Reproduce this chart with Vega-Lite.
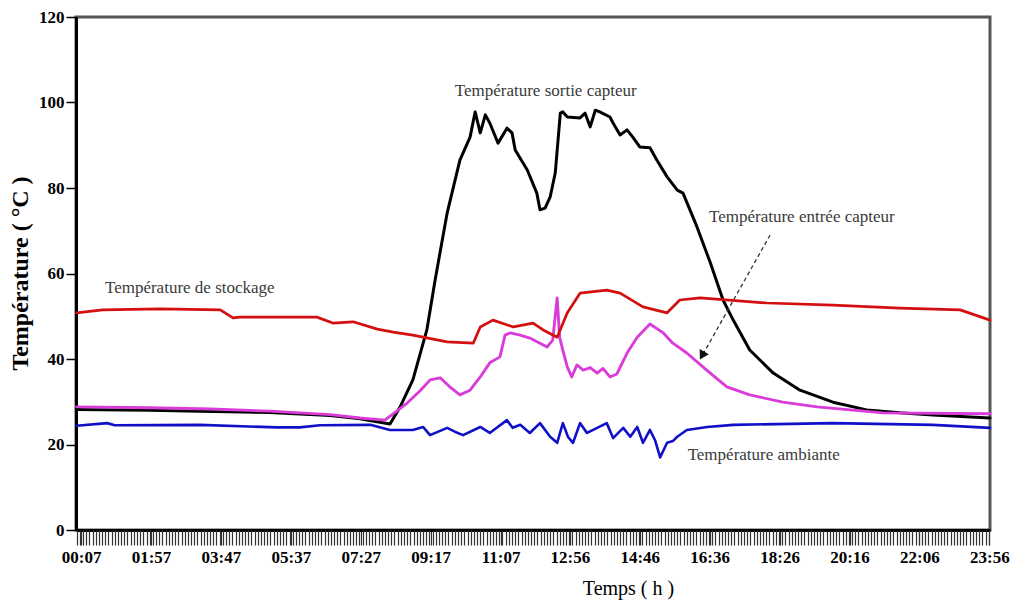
{
  "$schema": "https://vega.github.io/schema/vega-lite/v6.json",
  "width": 914,
  "height": 513,
  "autosize": "none",
  "padding": {"left": 76, "top": 17, "right": 24, "bottom": 73},
  "background": "white",
  "config": {"view": {"stroke": "#555", "strokeWidth": 3}},
  "datasets": {
    "series": [
      {"series":"sortie","minute":0,"temp":28.2},{"series":"sortie","minute":115,"temp":28.0},{"series":"sortie","minute":194,"temp":27.8},{"series":"sortie","minute":304,"temp":27.5},{"series":"sortie","minute":399,"temp":26.8},{"series":"sortie","minute":446,"temp":26.0},{"series":"sortie","minute":493,"temp":24.8},{"series":"sortie","minute":509,"temp":28.8},{"series":"sortie","minute":529,"temp":35.1},{"series":"sortie","minute":551,"temp":46.8},{"series":"sortie","minute":564,"temp":58.5},{"series":"sortie","minute":583,"temp":74.2},{"series":"sortie","minute":603,"temp":86.5},{"series":"sortie","minute":619,"temp":91.9},{"series":"sortie","minute":627,"temp":97.8},{"series":"sortie","minute":635,"temp":92.9},{"series":"sortie","minute":643,"temp":97.1},{"series":"sortie","minute":650,"temp":95.2},{"series":"sortie","minute":663,"temp":90.5},{"series":"sortie","minute":677,"temp":94.0},{"series":"sortie","minute":685,"temp":92.9},{"series":"sortie","minute":690,"temp":88.9},{"series":"sortie","minute":709,"temp":84.2},{"series":"sortie","minute":724,"temp":78.8},{"series":"sortie","minute":729,"temp":74.9},{"series":"sortie","minute":737,"temp":75.3},{"series":"sortie","minute":745,"temp":77.9},{"series":"sortie","minute":753,"temp":83.5},{"series":"sortie","minute":761,"temp":97.5},{"series":"sortie","minute":765,"temp":97.8},{"series":"sortie","minute":772,"temp":96.6},{"series":"sortie","minute":792,"temp":96.4},{"series":"sortie","minute":800,"temp":97.5},{"series":"sortie","minute":808,"temp":94.3},{"series":"sortie","minute":816,"temp":98.2},{"series":"sortie","minute":823,"temp":97.8},{"series":"sortie","minute":839,"temp":96.6},{"series":"sortie","minute":844,"temp":95.2},{"series":"sortie","minute":855,"temp":92.4},{"series":"sortie","minute":866,"temp":93.6},{"series":"sortie","minute":875,"temp":91.9},{"series":"sortie","minute":886,"temp":89.6},{"series":"sortie","minute":902,"temp":89.4},{"series":"sortie","minute":913,"temp":86.5},{"series":"sortie","minute":929,"temp":82.6},{"series":"sortie","minute":945,"temp":79.5},{"series":"sortie","minute":954,"temp":78.8},{"series":"sortie","minute":976,"temp":70.9},{"series":"sortie","minute":997,"temp":62.5},{"series":"sortie","minute":1017,"temp":53.8},{"series":"sortie","minute":1033,"temp":49.1},{"series":"sortie","minute":1059,"temp":42.1},{"series":"sortie","minute":1096,"temp":36.7},{"series":"sortie","minute":1138,"temp":32.7},{"series":"sortie","minute":1190,"temp":29.9},{"series":"sortie","minute":1243,"temp":28.1},{"series":"sortie","minute":1295,"temp":27.4},{"series":"sortie","minute":1347,"temp":26.9},{"series":"sortie","minute":1437,"temp":26.2},

      {"series":"entree","minute":0,"temp":28.8},{"series":"entree","minute":115,"temp":28.6},{"series":"entree","minute":210,"temp":28.3},{"series":"entree","minute":304,"temp":27.8},{"series":"entree","minute":399,"temp":27.0},{"series":"entree","minute":446,"temp":26.2},{"series":"entree","minute":485,"temp":25.7},{"series":"entree","minute":501,"temp":27.5},{"series":"entree","minute":520,"temp":29.7},{"series":"entree","minute":540,"temp":32.5},{"series":"entree","minute":556,"temp":35.1},{"series":"entree","minute":572,"temp":35.6},{"series":"entree","minute":587,"temp":33.5},{"series":"entree","minute":603,"temp":31.6},{"series":"entree","minute":619,"temp":32.7},{"series":"entree","minute":635,"temp":35.8},{"series":"entree","minute":650,"temp":39.1},{"series":"entree","minute":666,"temp":40.5},{"series":"entree","minute":674,"temp":45.6},{"series":"entree","minute":682,"temp":46.1},{"series":"entree","minute":698,"temp":45.6},{"series":"entree","minute":713,"temp":44.9},{"series":"entree","minute":729,"temp":43.7},{"series":"entree","minute":740,"temp":42.8},{"series":"entree","minute":749,"temp":44.4},{"series":"entree","minute":756,"temp":54.3},{"series":"entree","minute":760,"temp":45.0},{"series":"entree","minute":765,"temp":42.0},{"series":"entree","minute":772,"temp":38.1},{"series":"entree","minute":779,"temp":35.8},{"series":"entree","minute":787,"temp":38.6},{"series":"entree","minute":797,"temp":37.4},{"series":"entree","minute":808,"temp":38.0},{"series":"entree","minute":819,"temp":36.7},{"series":"entree","minute":828,"temp":37.8},{"series":"entree","minute":839,"temp":35.8},{"series":"entree","minute":850,"temp":36.5},{"series":"entree","minute":866,"temp":41.4},{"series":"entree","minute":882,"temp":45.1},{"series":"entree","minute":902,"temp":48.2},{"series":"entree","minute":923,"temp":46.1},{"series":"entree","minute":938,"temp":43.7},{"series":"entree","minute":960,"temp":41.4},{"series":"entree","minute":988,"temp":37.8},{"series":"entree","minute":1023,"temp":33.5},{"series":"entree","minute":1059,"temp":31.6},{"series":"entree","minute":1111,"temp":29.9},{"series":"entree","minute":1165,"temp":28.8},{"series":"entree","minute":1217,"temp":28.1},{"series":"entree","minute":1269,"temp":27.4},{"series":"entree","minute":1437,"temp":27.2},

      {"series":"stockage","minute":0,"temp":50.8},{"series":"stockage","minute":41,"temp":51.5},{"series":"stockage","minute":131,"temp":51.7},{"series":"stockage","minute":226,"temp":51.5},{"series":"stockage","minute":246,"temp":49.6},{"series":"stockage","minute":257,"temp":49.8},{"series":"stockage","minute":378,"temp":49.8},{"series":"stockage","minute":403,"temp":48.4},{"series":"stockage","minute":435,"temp":48.7},{"series":"stockage","minute":473,"temp":47.0},{"series":"stockage","minute":498,"temp":46.3},{"series":"stockage","minute":529,"temp":45.6},{"series":"stockage","minute":583,"temp":44.0},{"series":"stockage","minute":624,"temp":43.7},{"series":"stockage","minute":635,"temp":47.5},{"series":"stockage","minute":655,"temp":49.1},{"series":"stockage","minute":687,"temp":47.5},{"series":"stockage","minute":718,"temp":48.4},{"series":"stockage","minute":734,"temp":46.8},{"series":"stockage","minute":756,"temp":45.1},{"series":"stockage","minute":772,"temp":50.8},{"series":"stockage","minute":792,"temp":55.4},{"series":"stockage","minute":834,"temp":56.1},{"series":"stockage","minute":855,"temp":55.4},{"series":"stockage","minute":891,"temp":52.2},{"series":"stockage","minute":929,"temp":50.8},{"series":"stockage","minute":949,"temp":53.8},{"series":"stockage","minute":981,"temp":54.3},{"series":"stockage","minute":1086,"temp":53.1},{"series":"stockage","minute":1190,"temp":52.6},{"series":"stockage","minute":1295,"temp":51.9},{"series":"stockage","minute":1390,"temp":51.5},{"series":"stockage","minute":1437,"temp":49.1},

      {"series":"ambiante","minute":0,"temp":24.4},{"series":"ambiante","minute":48,"temp":25.0},{"series":"ambiante","minute":60,"temp":24.5},{"series":"ambiante","minute":194,"temp":24.6},{"series":"ambiante","minute":315,"temp":24.0},{"series":"ambiante","minute":351,"temp":24.0},{"series":"ambiante","minute":383,"temp":24.5},{"series":"ambiante","minute":462,"temp":24.6},{"series":"ambiante","minute":493,"temp":23.4},{"series":"ambiante","minute":529,"temp":23.4},{"series":"ambiante","minute":545,"temp":24.1},{"series":"ambiante","minute":556,"temp":22.2},{"series":"ambiante","minute":583,"temp":23.9},{"series":"ambiante","minute":595,"temp":23.0},{"series":"ambiante","minute":608,"temp":22.2},{"series":"ambiante","minute":635,"temp":24.1},{"series":"ambiante","minute":650,"temp":22.7},{"series":"ambiante","minute":677,"temp":25.7},{"series":"ambiante","minute":686,"temp":23.9},{"series":"ambiante","minute":698,"temp":24.6},{"series":"ambiante","minute":713,"temp":22.7},{"series":"ambiante","minute":729,"temp":25.0},{"series":"ambiante","minute":745,"temp":21.8},{"series":"ambiante","minute":756,"temp":20.4},{"series":"ambiante","minute":765,"temp":25.0},{"series":"ambiante","minute":773,"temp":21.8},{"series":"ambiante","minute":781,"temp":20.4},{"series":"ambiante","minute":792,"temp":25.0},{"series":"ambiante","minute":803,"temp":22.7},{"series":"ambiante","minute":819,"temp":23.9},{"series":"ambiante","minute":834,"temp":25.0},{"series":"ambiante","minute":844,"temp":21.5},{"series":"ambiante","minute":860,"temp":23.9},{"series":"ambiante","minute":871,"temp":21.8},{"series":"ambiante","minute":882,"temp":24.1},{"series":"ambiante","minute":891,"temp":20.4},{"series":"ambiante","minute":902,"temp":23.4},{"series":"ambiante","minute":910,"temp":21.0},{"series":"ambiante","minute":918,"temp":17.0},{"series":"ambiante","minute":929,"temp":20.4},{"series":"ambiante","minute":938,"temp":20.8},{"series":"ambiante","minute":945,"temp":21.8},{"series":"ambiante","minute":960,"temp":23.4},{"series":"ambiante","minute":992,"temp":24.1},{"series":"ambiante","minute":1033,"temp":24.6},{"series":"ambiante","minute":1190,"temp":25.0},{"series":"ambiante","minute":1347,"temp":24.6},{"series":"ambiante","minute":1437,"temp":23.9}
    ],
    "labels": [
      {"label":"Température sortie capteur","minute":738,"temp":102.7},
      {"label":"Température entrée capteur","minute":1141,"temp":73.2},
      {"label":"Température ambiante","minute":1081,"temp":17.5},
      {"label":"Température de stockage","minute":178,"temp":56.6}
    ],
    "arrow": [
      {"minute":1091,"temp":69.0,"minute2":985,"temp2":41.0}
    ],
    "arrowhead": [
      {"minute":984,"temp":40.8}
    ]
  },
  "layer": [
    {
      "data": {"name": "series"},
      "mark": {"type": "line", "strokeJoin": "round", "strokeCap": "round"},
      "encoding": {
        "x": {
          "field": "minute", "type": "quantitative",
          "scale": {"domain": [-1, 1437], "nice": false, "zero": false},
          "axis": {
            "orient": "bottom",
            "values": [7,117,227,337,447,557,667,776,886,996,1106,1216,1326,1436],
            "labelExpr": "timeFormat(datetime(2000,0,1,0,datum.value),'%H:%M')",
            "grid": false,
            "domain": true, "domainColor": "black", "domainWidth": 3,
            "ticks": true, "tickSize": 15, "tickColor": "#333", "tickWidth": 1.2,
            "labelFont": "Liberation Serif", "labelFontWeight": "bold", "labelFontSize": 17, "labelColor": "black",
            "labelPadding": 4, "labelOverlap": false, "labelFlush": false, "labelBound": false,
            "title": "Temps ( h )",
            "titleFont": "Liberation Serif", "titleFontWeight": "normal", "titleFontSize": 20, "titleColor": "black",
            "titleX": 552, "titleY": 58, "titleAlign": "center", "titleBaseline": "middle"
          }
        },
        "y": {
          "field": "temp", "type": "quantitative",
          "scale": {"domain": [0, 120], "nice": false},
          "axis": {
            "values": [0,20,40,60,80,100,120],
            "grid": false,
            "domain": true, "domainColor": "black", "domainWidth": 3,
            "tickSize": 10, "tickColor": "black", "tickWidth": 1.5,
            "labelFont": "Liberation Serif", "labelFontWeight": "bold", "labelFontSize": 17, "labelColor": "black",
            "labelPadding": 2,
            "title": "Température ( °C )",
            "titleFont": "Liberation Serif", "titleFontWeight": "bold", "titleFontSize": 24, "titleColor": "black",
            "titleAngle": -90, "titleX": -56, "titleY": 256, "titleAlign": "center", "titleBaseline": "middle"
          }
        },
        "color": {
          "field": "series", "type": "nominal", "legend": null,
          "scale": {"domain": ["sortie","entree","stockage","ambiante"], "range": ["#000000","#d93cd9","#d40f0f","#1010c8"]}
        },
        "strokeWidth": {
          "field": "series", "type": "nominal", "legend": null,
          "scale": {"domain": ["sortie","entree","stockage","ambiante"], "range": [3,2.6,3,2.6]}
        }
      }
    },
    {
      "data": {"name": "labels"},
      "mark": {"type": "text", "font": "Liberation Serif", "fontSize": 17, "color": "#3a3a3a", "align": "center", "baseline": "middle"},
      "encoding": {
        "x": {
          "field": "minute", "type": "quantitative",
          "axis": {"orient": "bottom", "tickCount": 290, "labels": false, "domain": false, "grid": false, "tickSize": 15, "tickColor": "#333", "tickWidth": 1.2, "title": null}
        },
        "y": {"field": "temp", "type": "quantitative"},
        "text": {"field": "label"}
      }
    },
    {
      "data": {"name": "arrow"},
      "mark": {"type": "rule", "color": "#333", "strokeWidth": 1.3, "strokeDash": [4, 3]},
      "encoding": {
        "x": {"field": "minute", "type": "quantitative", "axis": null},
        "y": {"field": "temp", "type": "quantitative"},
        "x2": {"field": "minute2"},
        "y2": {"field": "temp2"}
      }
    },
    {
      "data": {"name": "arrowhead"},
      "mark": {"type": "point", "shape": "triangle-up", "filled": true, "color": "#111", "size": 110, "angle": 209, "opacity": 1},
      "encoding": {
        "x": {"field": "minute", "type": "quantitative", "axis": null},
        "y": {"field": "temp", "type": "quantitative"}
      }
    }
  ],
  "resolve": {"axis": {"x": "independent"}}
}
